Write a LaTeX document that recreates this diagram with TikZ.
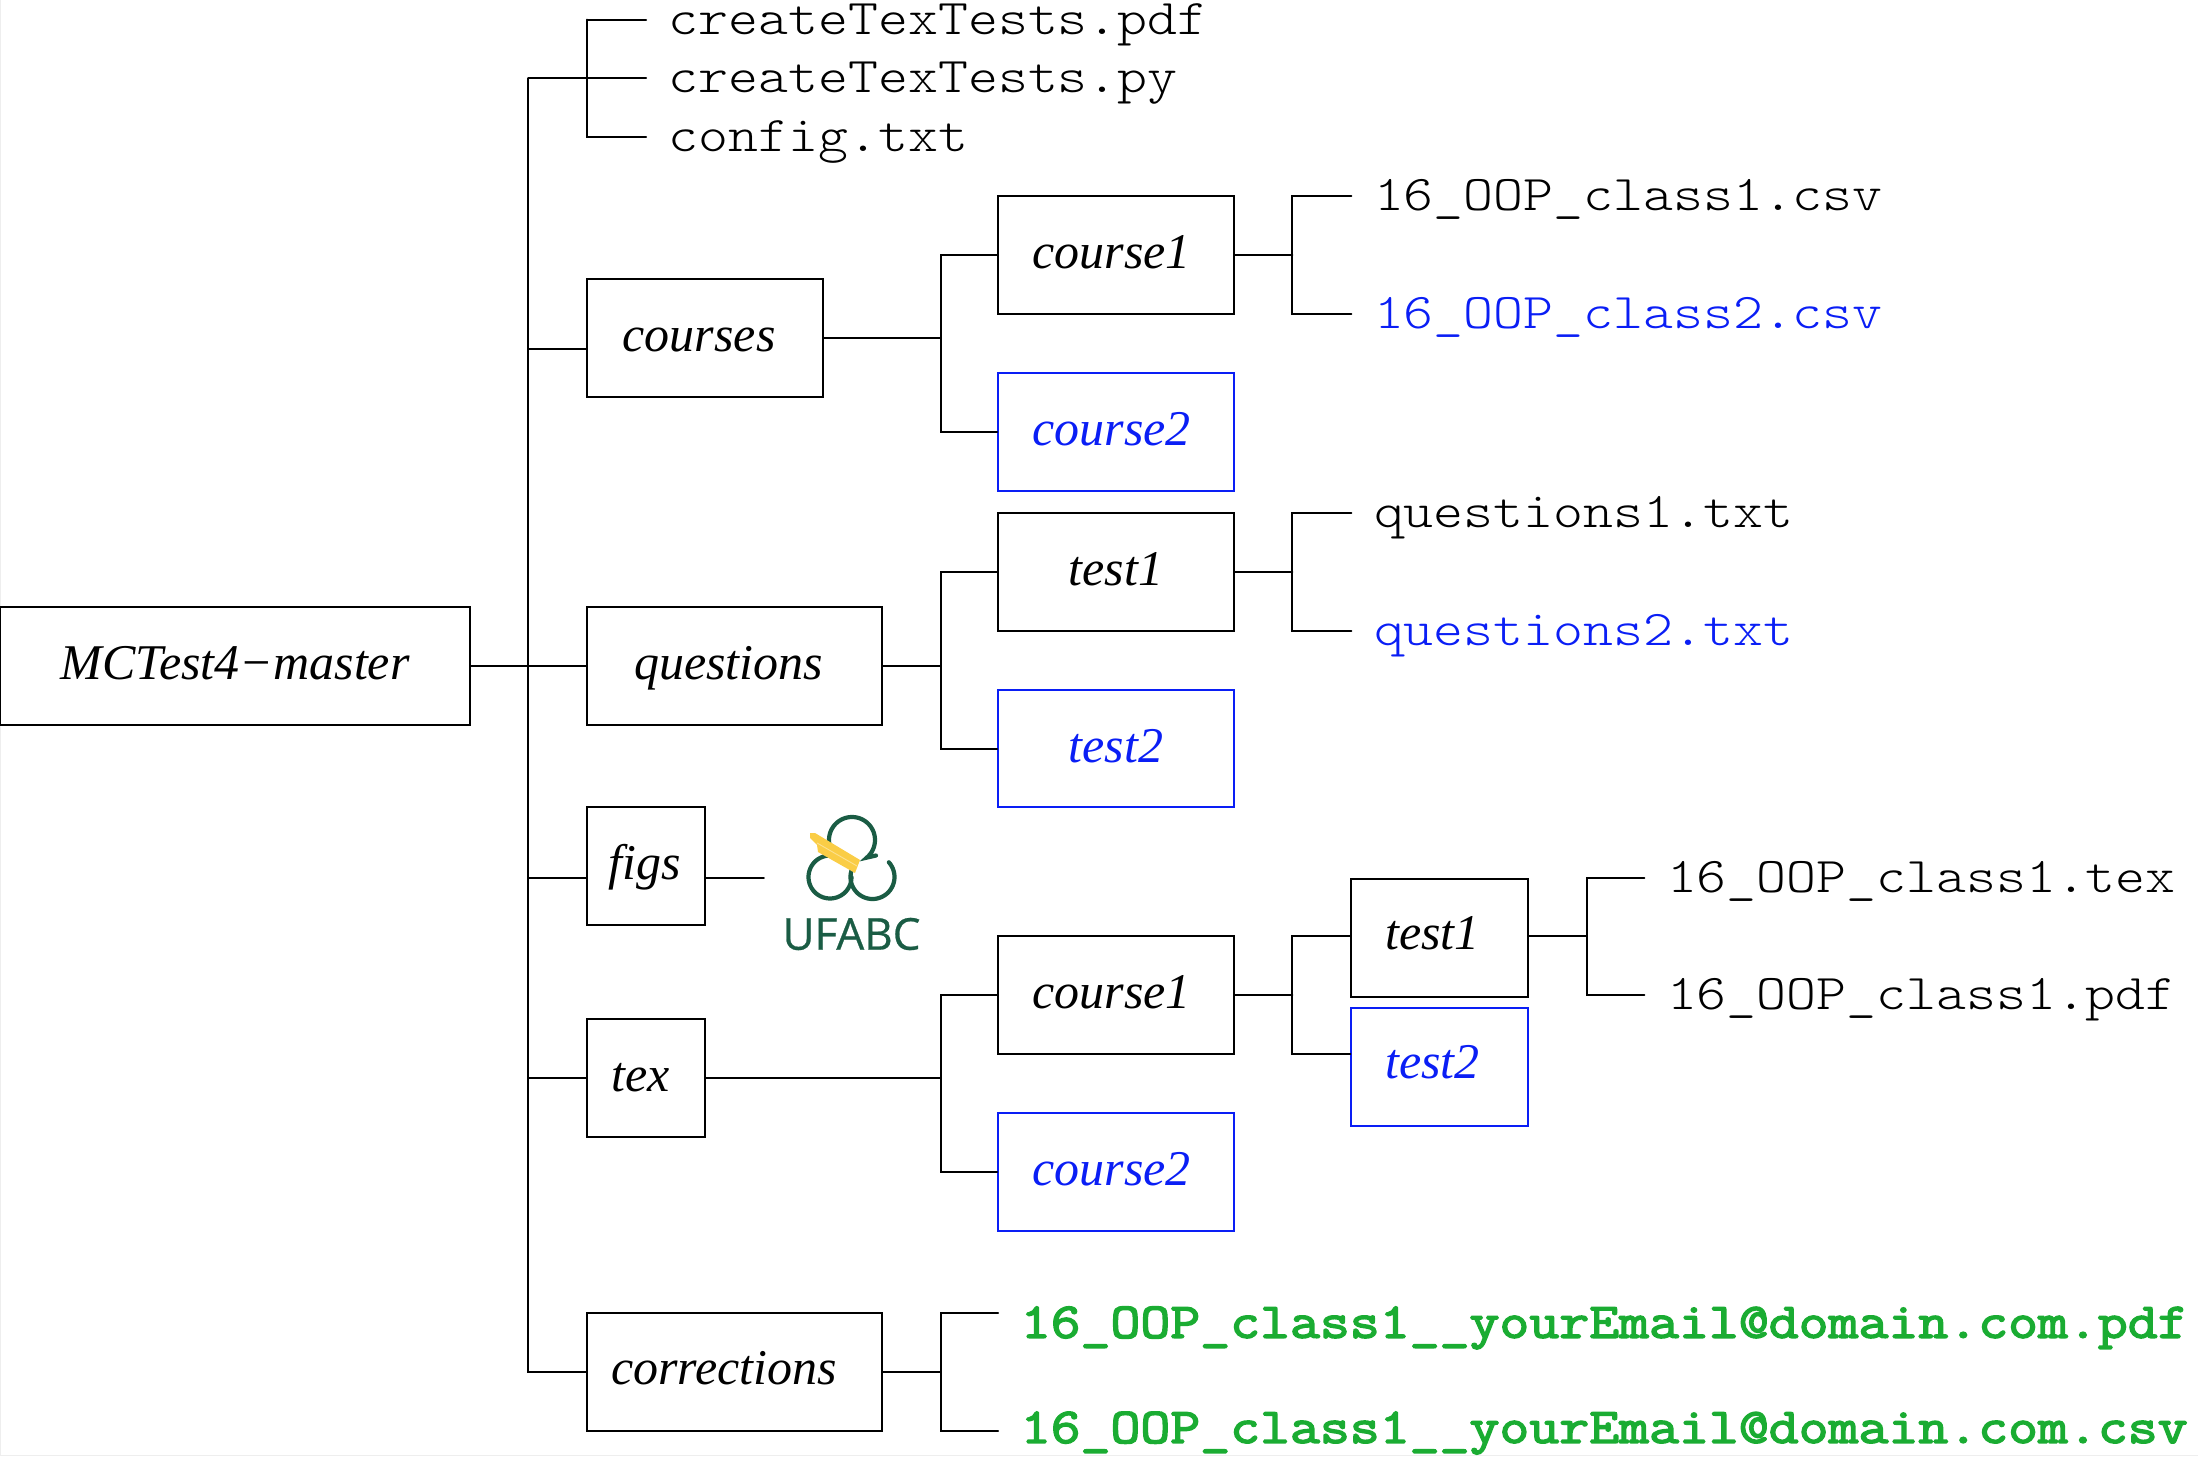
\documentclass[tikz,border=0pt]{standalone}
\usepackage{fontspec}
\setmainfont{Liberation Serif}
\newfontfamily\logofont[FakeBold=0.6]{Open Sans}
\newfontfamily\filemono[FakeStretch=1.14]{Latin Modern Mono Light}
\newfontfamily\greenmono[FakeStretch=1.162,FakeBold=3]{Latin Modern Mono}
\usetikzlibrary{calc}
\definecolor{fblue}{RGB}{10,30,245}
\definecolor{fgreen}{RGB}{26,172,50}
\definecolor{logogreen}{RGB}{26,92,68}
\definecolor{logoyellow}{RGB}{250,205,70}
\definecolor{edgegray}{RGB}{238,238,238}
\newcommand{\tsh}[1]{\hspace*{#1pt}}
\tikzset{
  x=1.4018pt, y=-1.4018pt,
  wire/.style={line width=2pt, draw=black, line cap=round},
  box/.style={draw=black, line width=2pt, inner sep=0pt, minimum height=117.8pt,
     text height=36pt, text depth=9pt, font=\fontsize{50}{60}\selectfont\itshape},
  nudgeup/.style={text height=34pt, text depth=10pt},
  bluebox/.style={box, draw=fblue, text=fblue},
  wd/.style={minimum width=#1*1.4018pt},
  file/.style={anchor=west, inner xsep=22.5pt, inner ysep=0pt, text height=36pt, text depth=7pt,
     font=\fontsize{50}{60}\selectfont\filemono},
  bluefile/.style={file, text=fblue},
  greenfile/.style={file, text=fgreen, font=\fontsize{50}{60}\selectfont\greenmono},
  logoring/.style={draw=logogreen, line width=4.2pt, line cap=round},
}
\begin{document}
\begin{tikzpicture}
\useasboundingbox (0,0) rectangle (1568,1038.7);
\draw[edgegray, line width=1.6pt] (0.3,0) -- (0.3,1038.2) -- (1568,1038.2);
% boxes
\node[box, wd=335] (root) at (167.5,475) {\tsh{1}MCTest4−master};
\node[box, wd=168] (courses) at (503,241) {\tsh{-12}courses};
\node[box, wd=168] (tcourse1) at (796,182) {\tsh{-8}course1};
\node[bluebox, wd=168] (tcourse2) at (796,308) {\tsh{-8}course2};
\node[box, wd=210] (questions) at (524,475) {\tsh{-12}questions};
\node[box, wd=168] (qtest1) at (796,408) {test1};
\node[bluebox, wd=168] (qtest2) at (796,534) {test2};
\node[box, wd=84] (figs) at (461,618) {\tsh{-3}figs};
\node[box, wd=84] (tex) at (461,769) {\tsh{-11}tex};
\node[box, wd=168] (xcourse1) at (796,710) {\tsh{-8}course1};
\node[bluebox, wd=168] (xcourse2) at (796,836) {\tsh{-8}course2};
\node[box, nudgeup, wd=126] (xtest1) at (1027,669) {\tsh{-14}test1};
\node[bluebox, nudgeup, wd=126] (xtest2) at (1027,761) {\tsh{-14}test2};
\node[box, nudgeup, wd=210] (corrections) at (524,979) {\tsh{-21}corrections};
% files
\node[file] (f1) at (461,14) {createTexTests.pdf};
\node[file] (f2) at (461,56) {createTexTests.py};
\node[file] (f3) at (461,98) {config.txt};
\node[file] (c1) at (964,140) {16\_OOP\_class1.csv};
\node[bluefile] (c2) at (964,224) {16\_OOP\_class2.csv};
\node[file] (q1) at (964,366) {questions1.txt};
\node[bluefile] (q2) at (964,450) {questions2.txt};
\node[file] (t1) at (1173,626) {16\_OOP\_class1.tex};
\node[file] (t2) at (1173,710) {16\_OOP\_class1.pdf};
\node[greenfile] (g1) at (712,944) {16\_OOP\_class1\_\_yourEmail@domain.com.pdf};
\node[greenfile] (g2) at (712,1019) {16\_OOP\_class1\_\_yourEmail@domain.com.csv};
% junction coordinates
\coordinate (logoW) at (545,626);
\coordinate (j0) at (377,475);
\coordinate (j1) at (419,56);
\coordinate (j2) at (671,241);
\coordinate (j3) at (922,182);
\coordinate (j4) at (671,475);
\coordinate (j5) at (922,408);
\coordinate (j6) at (671,769);
\coordinate (j7) at (922,710);
\coordinate (j8) at (1132,668);
\coordinate (j9) at (671,979);
% root and trunk
\draw[wire] (root.east) -- (questions.west);
\draw[wire] (j0 |- f2.west) -- (j0 |- corrections.west) -- (corrections.west);
\draw[wire] (j0 |- f2.west) -- (f2.west);
\draw[wire] (j1 |- f1.west) -- (f1.west);
\draw[wire] (j1 |- f1.west) -- (j1 |- f3.west) -- (f3.west);
\draw[wire] (j0 |- 0,249) -- (courses.west |- 0,249);
\draw[wire] (j0 |- 0,626) -- (figs.west |- 0,626);
\draw[wire] (figs.east |- 0,626) -- (logoW);
\draw[wire] (j0 |- tex.west) -- (tex.west);
% courses
\draw[wire] (courses.east) -- (j2);
\draw[wire] (tcourse1.west) -| (j2) |- (tcourse2.west);
\draw[wire] (tcourse1.east) -- (j3);
\draw[wire] (c1.west) -| (j3) |- (c2.west);
% questions
\draw[wire] (questions.east) -- (j4);
\draw[wire] (qtest1.west) -| (j4) |- (qtest2.west);
\draw[wire] (qtest1.east) -- (j5);
\draw[wire] (q1.west) -| (j5) |- (q2.west);
% tex
\draw[wire] (tex.east) -- (j6);
\draw[wire] (xcourse1.west) -| (j6) |- (xcourse2.west);
\draw[wire] (xcourse1.east) -- (j7);
\draw[wire] (xtest1.west |- 0,668) -| (j7) |- (xtest2.west |- 0,752);
\draw[wire] (xtest1.east |- 0,668) -- (j8);
\draw[wire] (t1.west) -| (j8) |- (t2.west);
% corrections
\draw[wire] (corrections.east) -- (j9);
\draw[wire] ($(g1.west)+(0,-7)$) -| (j9) |- ($(g2.west)+(0,2)$);
% logo, in pixel coordinates
\begin{scope}[x=1pt,y=-1pt]
  \draw[logoring] plot[domain=200:-50, samples=50] ({852+23*cos(\x)},{840-23*sin(\x)}) -- (876,855.5);
  \draw[logoring] plot[domain=40:360, samples=50] ({830+21.5*cos(\x)},{877-21.5*sin(\x)});
  \draw[logoring] plot[domain=42:-200, samples=50] ({872.5+22*cos(\x)},{877-22*sin(\x)});
  \fill[logoyellow] (810,833) -- (815,833) -- (860,860) -- (855,873) -- (818,852) -- (817,845) -- (810,838) -- cycle;
  \draw[white!40!logoyellow, line width=0.9pt] (817,843) -- (857,866);
  \node[text=logogreen, font=\fontsize{44}{50}\selectfont\logofont, inner sep=0pt] (logo) at (851.5,934) {UFABC};
\end{scope}
\end{tikzpicture}
\end{document}
